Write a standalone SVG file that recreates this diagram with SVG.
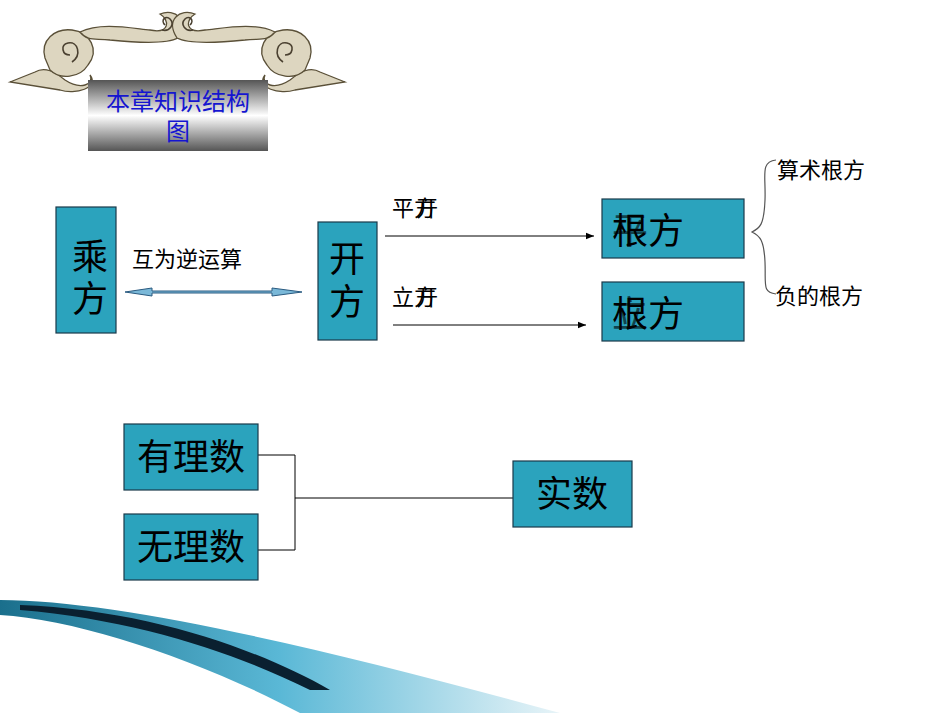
<svg xmlns="http://www.w3.org/2000/svg" width="950" height="713" viewBox="0 0 950 713">
<style>
.box{fill:#2ba3bd;stroke:#1a3a4a;stroke-width:1.2}
.t{font-family:"Liberation Serif","Noto Sans CJK SC",serif;fill:#000}
.ln{stroke:#000;stroke-width:1;fill:none}
.orn{fill:#ddd6c0;stroke:#5a5038;stroke-width:1.3}
.sp{fill:none;stroke:#4a4030;stroke-width:1.6}
</style>
<defs>
<linearGradient id="tg" x1="0" y1="0" x2="0" y2="1">
<stop offset="0" stop-color="#555"/><stop offset="0.5" stop-color="#fff"/><stop offset="1" stop-color="#555"/>
</linearGradient>
<linearGradient id="sw" x1="0" y1="0" x2="1" y2="0">
<stop offset="0" stop-color="#1a6f8c"/><stop offset="0.5" stop-color="#5ab8d6"/><stop offset="1" stop-color="#e8f4f8"/>
</linearGradient>
<marker id="ah" viewBox="0 0 10 10" refX="10" refY="5" markerWidth="8" markerHeight="8" orient="auto"><path d="M0,1 L10,5 L0,9 z" fill="#000"/></marker>
</defs>
<g id="ornament">
<path class="orn" d="M10,82 L35,72 C45,66 55,72 65,80 C80,90 95,85 90,75 C100,88 75,95 60,90 Z"/>
<path class="orn" d="M345,82 L320,72 C310,66 300,72 290,80 C275,90 260,85 265,75 C255,88 280,95 295,90 Z"/>
<path class="orn" d="M45,58 C40,40 55,28 72,30 C90,32 100,50 88,65 C80,78 60,80 50,70 Z"/>
<path class="orn" d="M310,58 C315,40 300,28 283,30 C265,32 255,50 267,65 C275,78 295,80 305,70 Z"/>
<path class="orn" d="M80,32 C100,22 130,28 150,30 C170,34 170,20 160,14 C175,8 190,20 178,38 C165,45 130,42 110,40 C95,38 88,42 80,32 Z"/>
<path class="orn" d="M275,32 C255,22 225,28 205,30 C185,34 185,20 195,14 C180,8 165,20 177,38 C190,45 225,42 245,40 C260,38 267,42 275,32 Z"/>
<path class="sp" d="M70,55 C62,55 60,45 68,43 C78,41 82,55 72,62"/>
<path class="sp" d="M285,55 C293,55 295,45 287,43 C277,41 273,55 283,62"/>
<path class="sp" d="M165,25 C160,20 166,15 170,19 C175,24 170,32 162,30"/>
<path class="sp" d="M190,25 C195,20 189,15 185,19 C180,24 185,32 193,30"/>
</g>
<g id="title">
<rect x="88" y="80" width="180" height="71" fill="url(#tg)"/>
<text x="178" y="110" text-anchor="middle" font-size="24" font-family="Liberation Serif,Noto Sans CJK SC,serif" fill="#1515d0">本章知识结构</text>
<text x="178" y="140" text-anchor="middle" font-size="24" font-family="Liberation Serif,Noto Sans CJK SC,serif" fill="#1515d0">图</text>
</g>
<path d="M0,600 C120,600 330,650 560,713 L300,713 C200,660 80,620 0,615 z" fill="url(#sw)"/>
<path d="M20,605 C150,610 260,650 330,690 L310,690 C240,655 140,620 20,610 z" fill="#0a2030"/>
<g id="connectors">
<path class="ln" d="M385,236 H594" marker-end="url(#ah)"/>
<path class="ln" d="M393,325 H586" marker-end="url(#ah)"/>
<path d="M125,292 L152,288 V291 H272 V288 L302,292 L272,296 V293 H152 V296 z" fill="#7ab8d8" stroke="#2a5a80"/>
<path class="ln" d="M258,455 H295 V550 H258 M295,498 H513"/>
<path d="M776,160 C760,162 766,175 765,200 C764,225 760,228 752,232 C760,236 764,240 765,262 C766,285 762,292 776,294" fill="none" stroke="#555" stroke-width="1.2"/>
</g>
<g id="n-chengfang"><rect class="box" x="56" y="207" width="60" height="126"/><text class="t" x="90" y="270" text-anchor="middle" font-size="36">乘</text><text class="t" x="90" y="312" text-anchor="middle" font-size="36">方</text></g>
<text class="t" x="132" y="267" font-size="22">互为逆运算</text>
<g id="n-kaifang"><rect class="box" x="318" y="222" width="59" height="118"/><text class="t" x="347" y="272" text-anchor="middle" font-size="36">开</text><text class="t" x="347" y="315" text-anchor="middle" font-size="36">方</text></g>
<text class="t" x="392" y="216" font-size="22">平方</text><text class="t" x="416" y="216" font-size="22">开</text>
<text class="t" x="392" y="305" font-size="22">立方</text><text class="t" x="416" y="305" font-size="22">开</text>
<g id="n-genfang1"><rect class="box" x="602" y="199" width="142" height="59"/><text class="t" x="612" y="244" font-size="36">根方</text><text class="t" x="612" y="244" font-size="36" fill-opacity="0.6">平</text></g>
<g id="n-genfang2"><rect class="box" x="602" y="282" width="142" height="59"/><text class="t" x="612" y="327" font-size="36">根方</text><text class="t" x="612" y="327" font-size="36" fill-opacity="0.6">立</text></g>
<text class="t" x="777" y="178" font-size="22">算术根方</text>
<text class="t" x="775" y="304" font-size="22">负的根方</text>
<g id="n-youli"><rect class="box" x="124" y="424" width="134" height="66"/><text class="t" x="191" y="470" text-anchor="middle" font-size="36">有理数</text></g>
<g id="n-wuli"><rect class="box" x="124" y="514" width="134" height="66"/><text class="t" x="191" y="560" text-anchor="middle" font-size="36">无理数</text></g>
<g id="n-shishu"><rect class="box" x="513" y="461" width="119" height="66"/><text class="t" x="572" y="507" text-anchor="middle" font-size="36">实数</text></g>
</svg>
